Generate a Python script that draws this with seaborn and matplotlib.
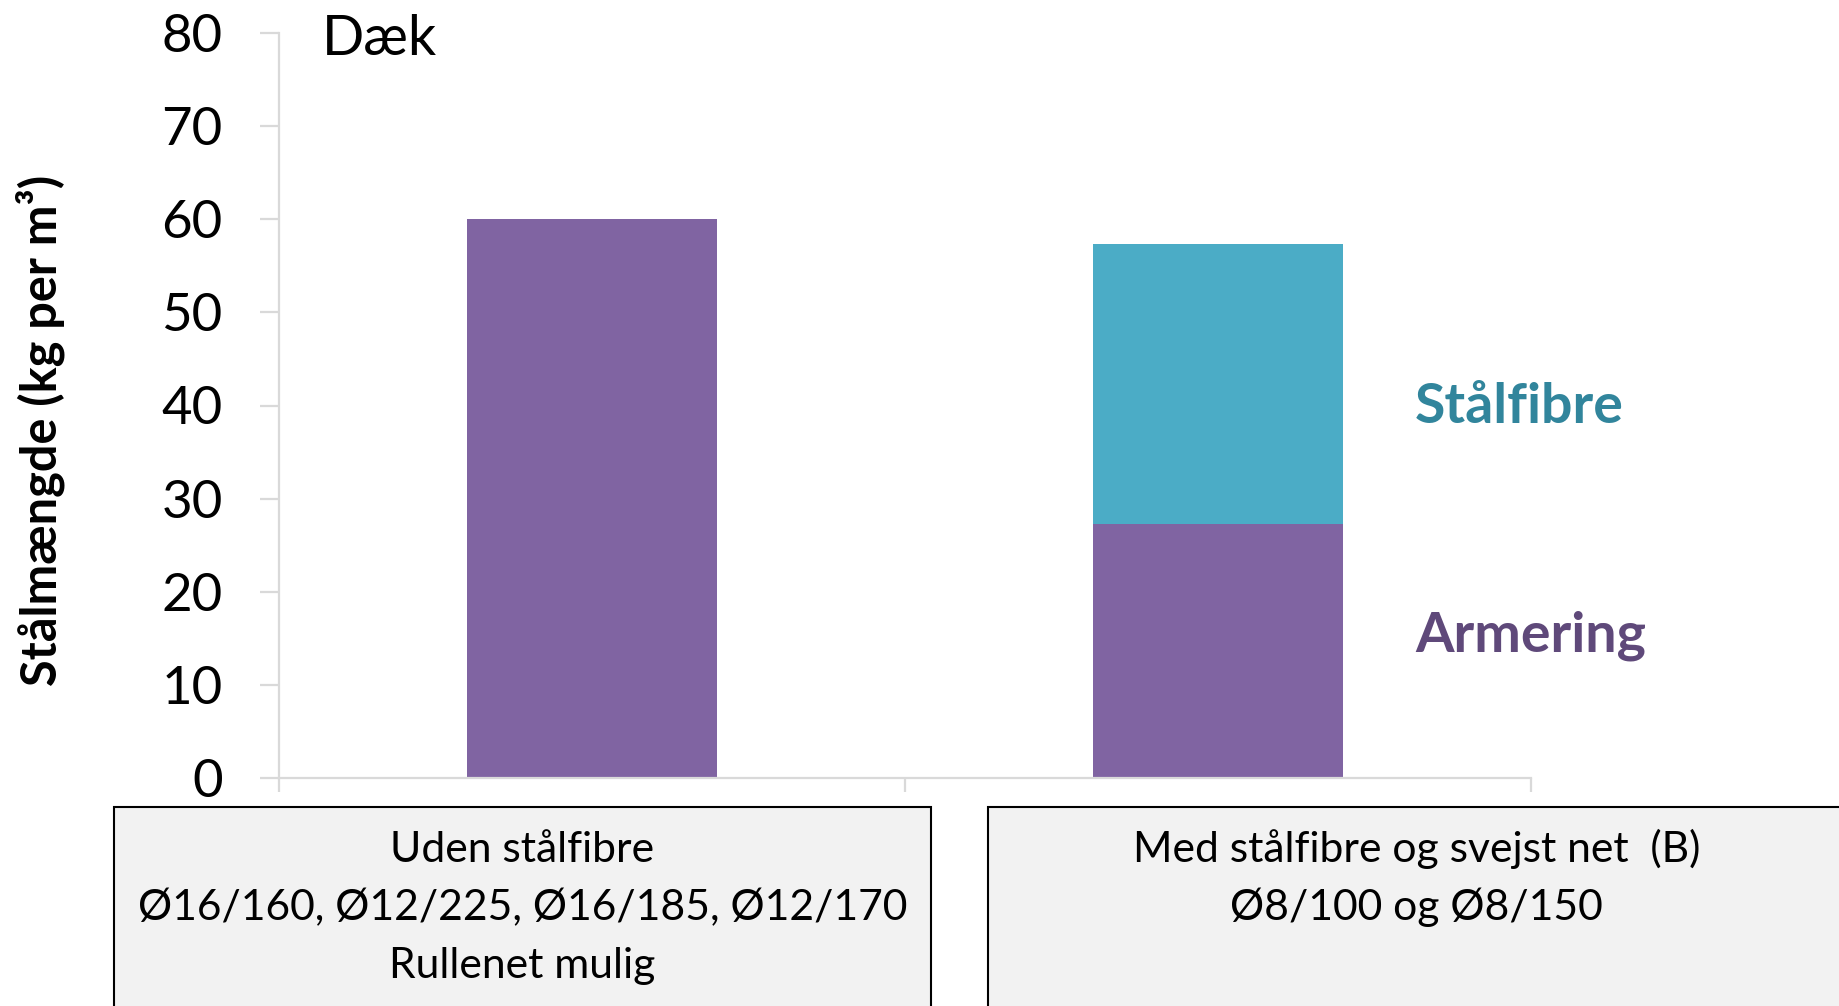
import matplotlib
matplotlib.use('Agg')
import matplotlib.pyplot as plt
import seaborn as sns
import pandas as pd
from matplotlib.patches import Rectangle

# ---- data ----
categories = ['Uden stålfibre', 'Med stålfibre og svejst net (B)']
armering = [60.0, 27.3]
staalfibre = [0.0, 30.0]
y_ticks = [0, 10, 20, 30, 40, 50, 60, 70, 80]
box_lines_1 = ['Uden stålfibre', 'Ø16/160, Ø12/225, Ø16/185, Ø12/170', 'Rullenet mulig']
box_lines_2 = ['Med stålfibre og svejst net  (B)', 'Ø8/100 og Ø8/150']
series_names = ['Stålfibre', 'Armering']
title_text = 'Dæk'
ylabel_text = 'Stålmængde (kg per m³)'

df = pd.DataFrame({'kategori': categories, 'Armering': armering, 'Stålfibre': staalfibre})
df['total'] = df['Armering'] + df['Stålfibre']

sns.set_theme(style='white')
plt.rcParams['font.family'] = ['Lato', 'DejaVu Sans']

PURPLE = '#8064A2'
TEAL = '#4BACC6'
AXGRAY = '#d9d9d9'

fig = plt.figure(figsize=(18.4, 10.06), dpi=100)
ax = fig.add_axes([279 / 1840, 1 - 778 / 1006, (1531 - 279) / 1840, (778 - 33) / 1006])

sns.barplot(data=df, x='kategori', y='total', color=TEAL, saturation=1,
            width=0.4, linewidth=0, ax=ax)
sns.barplot(data=df, x='kategori', y='Armering', color=PURPLE, saturation=1,
            width=0.4, linewidth=0, ax=ax)

ax.set_xlim(-0.5, 1.5)
ax.set_ylim(0, 80)
ax.set_yticks(y_ticks)
ax.set_yticklabels([str(t) for t in y_ticks])
ax.set_xticks([])
ax.set_xticks([-0.5, 0.5, 1.5], minor=True)
ax.set_xlabel('')
ax.set_ylabel('')

for s in ['top', 'right']:
    ax.spines[s].set_visible(False)
for s in ['left', 'bottom']:
    ax.spines[s].set_color(AXGRAY)
    ax.spines[s].set_linewidth(1.6)

ax.tick_params(axis='y', which='major', left=True, direction='out', length=13.5,
               width=1.6, color=AXGRAY, labelsize=38, pad=27, labelcolor='black')
ax.tick_params(axis='x', which='minor', bottom=True, direction='out', length=10,
               width=1.6, color=AXGRAY)

# series labels
ax.text(1.315, 38.1, series_names[0], color='#31859C', fontsize=40,
        fontweight='bold', ha='left', va='baseline')
ax.text(1.315, 13.6, series_names[1], color='#5F497A', fontsize=40,
        fontweight='bold', ha='left', va='baseline')

# title
fig.text(322 / 1840, 1 - 55 / 1006, title_text, fontsize=40, ha='left',
         va='baseline', color='black')

# y label
fig.text(40 / 1840, 1 - 430 / 1006, ylabel_text, rotation=90, fontsize=35,
         fontweight='bold', ha='center', va='center', color='black')

# category boxes
boxes = [(114, 931, box_lines_1), (988, 1845, box_lines_2)]
for x0, x1, lines in boxes:
    rect = Rectangle((x0 / 1840, -0.05), (x1 - x0) / 1840, 0.05 + 1 - 807 / 1006,
                     transform=fig.transFigure, facecolor='#f2f2f2',
                     edgecolor='black', linewidth=1.5, clip_on=False)
    fig.add_artist(rect)
    cx = (x0 + x1) / 2 / 1840
    for i, line in enumerate(lines):
        fig.text(cx, 1 - (862 + 58 * i) / 1006, line, fontsize=30.7,
                 ha='center', va='baseline', color='black')

fig.savefig('out.png', dpi=100)
